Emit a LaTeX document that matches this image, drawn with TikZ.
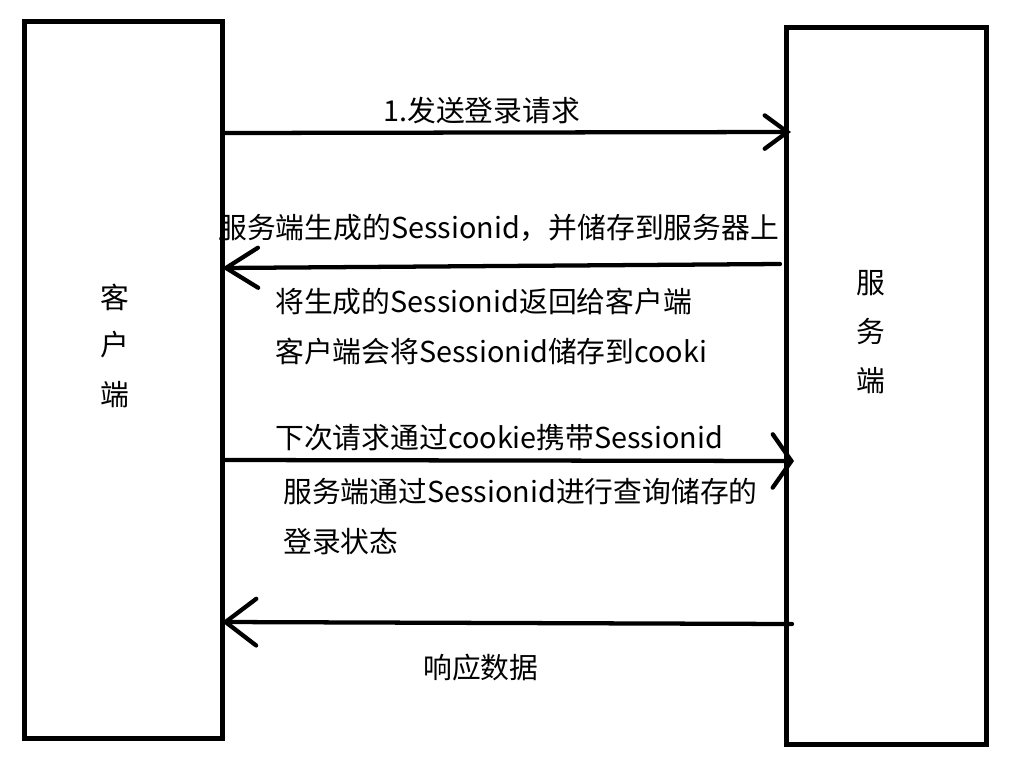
\documentclass[tikz,border=0pt]{standalone}
\usepackage{fontspec}
\setmainfont{Noto Sans CJK SC}
\usetikzlibrary{arrows.meta}
\begin{document}
\begin{tikzpicture}[x=0.75pt,y=-0.75pt,
  party/.style={draw=black,line width=3.75pt,fill=none,inner sep=0pt,rectangle},
  lbl/.style={inner sep=0pt,anchor=west,font=\fontsize{21.6}{25}\selectfont},
  vlbl/.style={inner sep=0pt,font=\fontsize{21.6}{25}\selectfont},
  msg/.style={draw=black,line width=3.2pt,line cap=round,line join=round}]
\useasboundingbox (0,0) rectangle (1028,757);
\fill[white] (0,0) rectangle (1028,757);
% boxes
\node[party,minimum width=148.5pt,minimum height=537.75pt] (client) at (123.5,380) {};
\node[party,minimum width=150pt,minimum height=538pt] (server) at (886.5,386.25) {};
% vertical labels
\node[vlbl] (c1) at (115,297) {客};
\node[vlbl] (c2) at (115,345) {户};
\node[vlbl] (c3) at (115,395) {端};
\node[vlbl] (s1) at (871,283) {服};
\node[vlbl] (s2) at (871,332) {务};
\node[vlbl] (s3) at (871,381) {端};
% message end points
\coordinate (a1s) at (224,133);
\coordinate (a1e) at (791,132);
\coordinate (a2s) at (780,264);
\coordinate (a2e) at (222,268);
\coordinate (a3s) at (224,460);
\coordinate (a3e) at (794,461);
\coordinate (a4s) at (792,624);
\coordinate (a4e) at (222,622);
% arrows
\draw[msg,-{Straight Barb[length=17pt,width=25pt,line cap=round]}] (a1s) -- (a1e);
\draw[msg,-{Straight Barb[length=24pt,width=30pt,line cap=round]}] (a2s) -- (a2e);
\draw[msg,-{Straight Barb[length=14pt,width=40pt,line cap=round]}] (a3s) -- (a3e);
\draw[msg,-{Straight Barb[length=23pt,width=35pt,line cap=round]}] (a4s) -- (a4e);
% texts
\node[lbl] (t1) at (383,111) {1.发送登录请求};
\node[lbl] (t2) at (218,228) {服务端生成的Sessionid，并储存到服务器上};
\node[lbl] (t3) at (275,302) {将生成的Sessionid返回给客户端};
\node[lbl] (t4) at (275,352) {客户端会将Sessionid储存到cooki};
\node[lbl] (t5) at (275,438) {下次请求通过cookie携带Sessionid};
\node[lbl] (t6) at (283,492) {服务端通过Sessionid进行查询储存的};
\node[lbl] (t7) at (283,542) {登录状态};
\node[lbl] (t8) at (423,668) {响应数据};
\end{tikzpicture}
\end{document}
